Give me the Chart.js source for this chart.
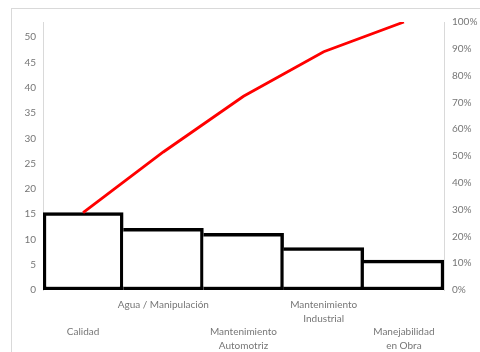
<!DOCTYPE html>
<html>
<head>
<meta charset="utf-8">
<script src="https://cdn.jsdelivr.net/npm/chart.js@4/dist/chart.umd.min.js"></script>
<style>
  html, body { margin: 0; padding: 0; background: #ffffff; overflow: hidden; }
  #frame { position: absolute; left: 11px; top: 8px; width: 520px; height: 400px; border: 1px solid #d9d9d9; box-sizing: border-box; }
  #wrap { position: absolute; left: 0; top: 0; width: 480px; height: 352px; }
</style>
</head>
<body>
<div id="frame"></div>
<div id="wrap"><canvas id="chart" width="480" height="352"></canvas></div>
<script>
// Causas (ordenadas de mayor a menor) y su frecuencia
const categories = [
  ['', '', 'Calidad'],
  ['Agua / Manipulación'],
  ['', '', 'Mantenimiento', 'Automotriz'],
  ['Mantenimiento', 'Industrial'],
  ['', '', 'Manejabilidad', 'en Obra']
];
const frequency = [15.3, 12.2, 11.2, 8.4, 5.9];
// Porcentaje acumulado (curva de Pareto)
const cumulativePct = [28.9, 51.5, 72.3, 88.9, 100];
const leftMax = 53;
const leftStep = 5;
const rightStep = 10;

const tickFont = { family: 'Lato, "Open Sans", sans-serif', size: 10, lineHeight: 1.36 };
const tickColor = '#767676';
const axisLine = '#d9d9d9';
const edge = 3.5;

new Chart(document.getElementById('chart'), {
  data: {
    labels: categories,
    datasets: [
      {
        type: 'line',
        data: cumulativePct,
        yAxisID: 'y1',
        borderColor: '#ff0000',
        borderWidth: 2.8,
        pointRadius: 0,
        tension: 0,
        fill: false,
        order: 0
      },
      {
        type: 'bar',
        data: frequency,
        yAxisID: 'y',
        backgroundColor: '#ffffff',
        borderColor: '#000000',
        // bars touch each other: each shared edge is drawn once, by the bar on its left
        borderWidth: (ctx) => ({
          left: ctx.dataIndex === 0 ? edge : 0,
          top: edge,
          bottom: edge,
          right: edge
        }),
        borderSkipped: false,
        barPercentage: 1,
        categoryPercentage: 1,
        order: 1
      }
    ]
  },
  options: {
    responsive: false,
    animation: false,
    events: [],
    layout: { padding: { top: 22, left: 0, right: 0, bottom: 0 } },
    plugins: { legend: { display: false }, tooltip: { enabled: false } },
    scales: {
      x: {
        offset: true,
        grid: { display: false, drawTicks: false, tickLength: 0 },
        border: { display: false },
        ticks: { font: tickFont, color: tickColor, padding: 8, maxRotation: 0, minRotation: 0, autoSkip: false },
        afterFit: (s) => { s.height = 62; }
      },
      y: {
        position: 'left',
        min: 0,
        max: leftMax,
        grid: { display: false, drawTicks: false, tickLength: 0 },
        border: { display: true, color: axisLine, width: 1 },
        ticks: { stepSize: leftStep, font: tickFont, color: tickColor, padding: 7 },
        afterBuildTicks: (s) => { s.ticks = s.ticks.filter(t => t.value % leftStep === 0); },
        afterFit: (s) => { s.width = 43; }
      },
      y1: {
        position: 'right',
        min: 0,
        max: 100,
        grid: { display: false, drawTicks: false, tickLength: 0 },
        border: { display: true, color: axisLine, width: 1 },
        ticks: { stepSize: rightStep, font: tickFont, color: tickColor, padding: 8, callback: (v) => v + '%' },
        afterFit: (s) => { s.width = 36; }
      }
    }
  }
});
</script>
</body>
</html>
